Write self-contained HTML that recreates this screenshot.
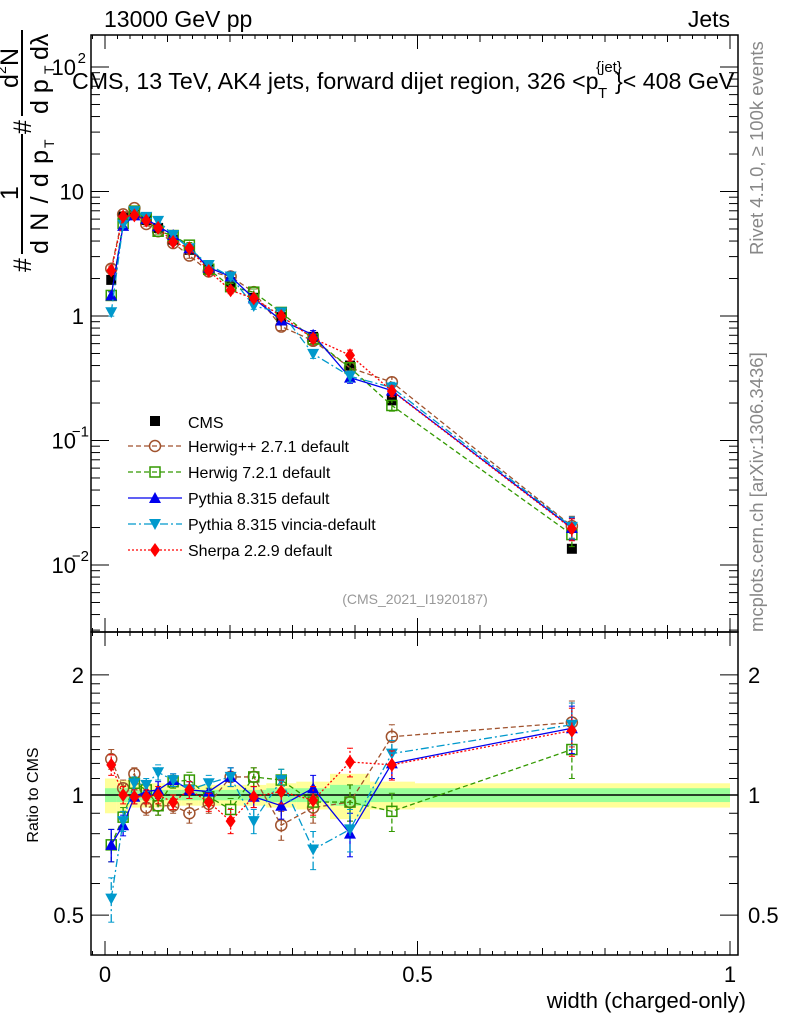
<!DOCTYPE html>
<html><head><meta charset="utf-8"><style>
body{margin:0;background:#fff}
svg{display:block;font-family:"Liberation Sans",sans-serif}
</style></head><body>
<svg id="c" width="786" height="1024" viewBox="0 0 786 1024"></svg>
<script>
const xs=[0.01,0.029,0.047,0.066,0.085,0.109,0.135,0.166,0.201,0.238,0.282,0.333,0.392,0.459,0.747];
const edges=[0,0.019,0.038,0.056,0.075,0.096,0.122,0.149,0.184,0.219,0.258,0.306,0.36,0.424,0.496,1.0];
const cms=[1.95,6.3,6.5,5.9,5.1,4.1,3.4,2.4,1.87,1.4,0.98,0.68,0.4,0.21,0.0135];
const stat=[0.04,0.04,0.03,0.03,0.03,0.03,0.03,0.03,0.03,0.03,0.04,0.04,0.06,0.04,0.04];
const tot=[0.10,0.09,0.07,0.07,0.07,0.06,0.06,0.06,0.06,0.06,0.07,0.08,0.13,0.08,0.07];
const rHpp=[1.23,1.04,1.13,0.93,0.94,0.94,0.90,0.95,1.11,1.11,0.84,0.93,0.96,1.40,1.52];
const rH7=[0.75,0.88,1.07,1.03,0.94,1.08,1.09,0.99,0.92,1.11,1.09,0.96,0.96,0.91,1.30];
const rPy=[0.75,0.84,0.99,1.02,1.03,1.09,1.03,1.02,1.11,0.99,0.94,1.04,0.80,1.20,1.47];
const rVin=[0.55,0.86,1.07,1.06,1.14,1.09,1.03,1.07,1.11,0.86,1.09,0.73,0.82,1.27,1.50];
const rSh=[1.19,1.00,0.99,0.99,1.00,0.96,1.03,0.96,0.86,0.99,1.02,0.97,1.21,1.19,1.45];
const rErr=[0.07,0.05,0.04,0.04,0.05,0.04,0.05,0.05,0.06,0.06,0.07,0.08,0.1,0.1,0.2];

const S=document.getElementById('c');const NS='http://www.w3.org/2000/svg';
function el(t,a,p){const e=document.createElementNS(NS,t);for(const k in a)e.setAttribute(k,a[k]);(p||S).appendChild(e);return e;}
const X=w=>105+625*w;
const Ym=v=>316-124.5*Math.log10(v);
const Yr=r=>795-399*Math.log10(r);
const L=91,R=738,T=35,MB=632,RB=955;

const gb=el('g',{});
for(let i=0;i<xs.length;i++){
  const x0=X(edges[i]),x1=X(edges[i+1]);
  el('rect',{x:x0,y:Yr(1+tot[i]),width:x1-x0,height:Yr(1-tot[i])-Yr(1+tot[i]),fill:'#ffff99'},gb);
}
for(let i=0;i<xs.length;i++){
  const x0=X(edges[i]),x1=X(edges[i+1]);
  el('rect',{x:x0,y:Yr(1+stat[i]),width:x1-x0,height:Yr(1-stat[i])-Yr(1+stat[i]),fill:'#99ff99'},gb);
}
el('line',{x1:L,x2:R,y1:Yr(1),y2:Yr(1),stroke:'#000','stroke-width':1.5});

el('rect',{x:L,y:T,width:R-L,height:MB-T,fill:'none',stroke:'#000','stroke-width':1.5});
el('rect',{x:L,y:MB,width:R-L,height:RB-MB,fill:'none',stroke:'#000','stroke-width':1.5});

for(let k=0;k<=10;k++){const w=k*0.1,x=X(w);if(x>R)continue;const len=(k%5==0)?14:7;
  for(const [y0,d] of [[T,1],[MB,-1],[MB,1],[RB,-1]]) el('line',{x1:x,x2:x,y1:y0,y2:y0+d*len,stroke:'#000'});}
for(let k=-1;k<=50;k++){const x=X(k*0.02);if(x<L||x>R)continue;
  for(const [y0,d] of [[T,1],[MB,-1],[MB,1],[RB,-1]]) el('line',{x1:x,x2:x,y1:y0,y2:y0+d*4,stroke:'#000'});}
[['0',0],['0.5',0.5],['1',1]].forEach(([t,w])=>{const e=el('text',{x:X(w),y:982,'font-size':22,'text-anchor':'middle'});e.textContent=t;});
const xt=el('text',{x:746,y:1008,'font-size':22,'text-anchor':'end'});xt.textContent='width (charged-only)';

for(let d=-3;d<=2;d++){for(let m=1;m<10;m++){const v=m*Math.pow(10,d),y=Ym(v);if(y<T||y>MB)continue;const len=m==1?18:9;
  el('line',{x1:L,x2:L+len,y1:y,y2:y,stroke:'#000'});el('line',{x1:R,x2:R-len,y1:y,y2:y,stroke:'#000'});}}
[['1',1],['10',10]].forEach(([t,v])=>{const e=el('text',{x:84,y:Ym(v)+8,'font-size':22,'text-anchor':'end'});e.textContent=t;});
[2,-1,-2].forEach(p=>{const e=el('text',{x:76,y:Ym(Math.pow(10,p))+8,'font-size':22,'text-anchor':'end'});e.textContent='10';
  const s=el('text',{x:p<0?89:86,y:Ym(Math.pow(10,p))-4,'font-size':15,'text-anchor':'end'});s.textContent=p<0?'\u2212'+(-p):''+p;});

[0.5,0.6,0.7,0.8,0.9,1,1.1,1.2,1.3,1.4,1.5,1.6,1.7,1.8,1.9,2].forEach(v=>{const y=Yr(v);const big=(v==0.5||v==1||v==2);const len=big?18:9;
  el('line',{x1:L,x2:L+len,y1:y,y2:y,stroke:'#000'});el('line',{x1:R,x2:R-len,y1:y,y2:y,stroke:'#000'});});
[['2',2],['1',1],['0.5',0.5]].forEach(([t,v])=>{const a=el('text',{x:84,y:Yr(v)+8,'font-size':22,'text-anchor':'end'});a.textContent=t;
  const b=el('text',{x:748,y:Yr(v)+8,'font-size':22});b.textContent=t;});
const rt=el('text',{x:0,y:0,'font-size':16,'text-anchor':'middle',transform:'translate(38,795) rotate(-90)'});rt.textContent='Ratio to CMS';

const yt=el('g',{transform:'translate(0,272) rotate(-90)'});
function tx(p,x,y,s,t,a){const e=el('text',Object.assign({x:x,y:y,'font-size':s},a||{}),p);e.textContent=t;return e;}
tx(yt,0,31,25,'#');
el('line',{x1:18,x2:138,y1:22,y2:22,stroke:'#000','stroke-width':2},yt);
tx(yt,79,18,25,'1',{'text-anchor':'middle'});
tx(yt,18,48,25,'d N / d p',{textLength:104});tx(yt,124,54,14,'T');
tx(yt,138,31,25,'#');
el('line',{x1:156,x2:242,y1:22,y2:22,stroke:'#000','stroke-width':2},yt);
tx(yt,184,18,25,'d');tx(yt,198,6,14,'2');tx(yt,206,18,25,'N');
tx(yt,158,48,25,'d p');tx(yt,198,54,14,'T');tx(yt,212,48,25,'d\u03bb');

function lbl(x,y,s,t,n,extra){const e=el('text',Object.assign({x:x,y:y,'font-size':s},extra||{}));e.textContent=t;return e;}
lbl(104,27,23,'13000 GeV pp','header-left');
lbl(730,27,23,'Jets','header-right',{'text-anchor':'end'});
lbl(72,89,23.2,'CMS, 13 TeV, AK4 jets, forward dijet region, 326 <p','plot-title');
lbl(598,98,15,'T','title-sub');lbl(596,72,15,'{jet}','title-sup');lbl(615,89,23.2,'}< 408 GeV','plot-title-end');
lbl(415,604,14,'(CMS_2021_I1920187)','analysis-label',{'text-anchor':'middle',fill:'#999'});
lbl(0,0,18.5,'Rivet 4.1.0, \u2265 100k events','rivet-label',{transform:'translate(763,255) rotate(-90)',fill:'#888'});
lbl(0,0,18.5,'mcplots.cern.ch [arXiv:1306.3436]','mcplots-label',{transform:'translate(763,632) rotate(-90)',fill:'#888'});

function mark(g,type,x,y,c){
  if(type=='sq')el('rect',{x:x-5,y:y-5,width:10,height:10,fill:c},g);
  else if(type=='circ')el('circle',{cx:x,cy:y,r:5.5,fill:'none',stroke:c,'stroke-width':1.5},g);
  else if(type=='osq')el('rect',{x:x-5,y:y-5,width:10,height:10,fill:'none',stroke:c,'stroke-width':1.5},g);
  else if(type=='up')el('polygon',{points:`${x},${y-6} ${x-6},${y+5} ${x+6},${y+5}`,fill:c},g);
  else if(type=='dn')el('polygon',{points:`${x},${y+6} ${x-6},${y-5} ${x+6},${y-5}`,fill:c},g);
  else if(type=='dia')el('polygon',{points:`${x},${y-7} ${x-5},${y} ${x},${y+7} ${x+5},${y}`,fill:c},g);
}
const series=[
 {n:'herwigpp',r:rHpp,c:'#a0522d',m:'circ',d:'5,3',lab:'Herwig++ 2.7.1 default'},
 {n:'herwig7',r:rH7,c:'#339900',m:'osq',d:'5,3',lab:'Herwig 7.2.1 default'},
 {n:'pythia',r:rPy,c:'#0000ee',m:'up',d:'',lab:'Pythia 8.315 default'},
 {n:'vincia',r:rVin,c:'#0099cc',m:'dn',d:'8,3,2,3',lab:'Pythia 8.315 vincia-default'},
 {n:'sherpa',r:rSh,c:'#ff0000',m:'dia',d:'2,2',lab:'Sherpa 2.2.9 default'}];
const gc=el('g',{});
cms.forEach((v,i)=>mark(gc,'sq',X(xs[i]),Ym(v),'#000'));
series.forEach(s=>{
  for(const panel of ['main','ratio']){
    const g=el('g',{});
    const pts=xs.map((w,i)=>{const val=panel=='main'?cms[i]*s.r[i]:s.r[i];return [X(w),panel=='main'?Ym(val):Yr(val),val];});
    el('polyline',{points:pts.map(p=>p[0]+','+p[1]).join(' '),fill:'none',stroke:s.c,'stroke-width':1.3,'stroke-dasharray':s.d},g);
    pts.forEach((p,i)=>{const e=rErr[i];const lo=panel=='main'?Ym(p[2]*(1-e)):Yr(p[2]-e),hi=panel=='main'?Ym(p[2]*(1+e)):Yr(p[2]+e);
      el('line',{x1:p[0],x2:p[0],y1:lo,y2:hi,stroke:s.c,'stroke-width':1.3,'stroke-dasharray':s.d},g);
      el('line',{x1:p[0]-3,x2:p[0]+3,y1:lo,y2:lo,stroke:s.c},g);el('line',{x1:p[0]-3,x2:p[0]+3,y1:hi,y2:hi,stroke:s.c},g);
      mark(g,s.m,p[0],p[1],s.c);});
  }
});
const lg=el('g',{});
mark(lg,'sq',155,421,'#000');tx(lg,188,428,16,'CMS');
series.forEach((s,i)=>{const y=446+i*26;
  el('line',{x1:128,x2:182,y1:y,y2:y,stroke:s.c,'stroke-width':1.3,'stroke-dasharray':s.d},lg);
  mark(lg,s.m,155,y,s.c);tx(lg,188,y+6,16,s.lab);});
</script>
</body></html>
